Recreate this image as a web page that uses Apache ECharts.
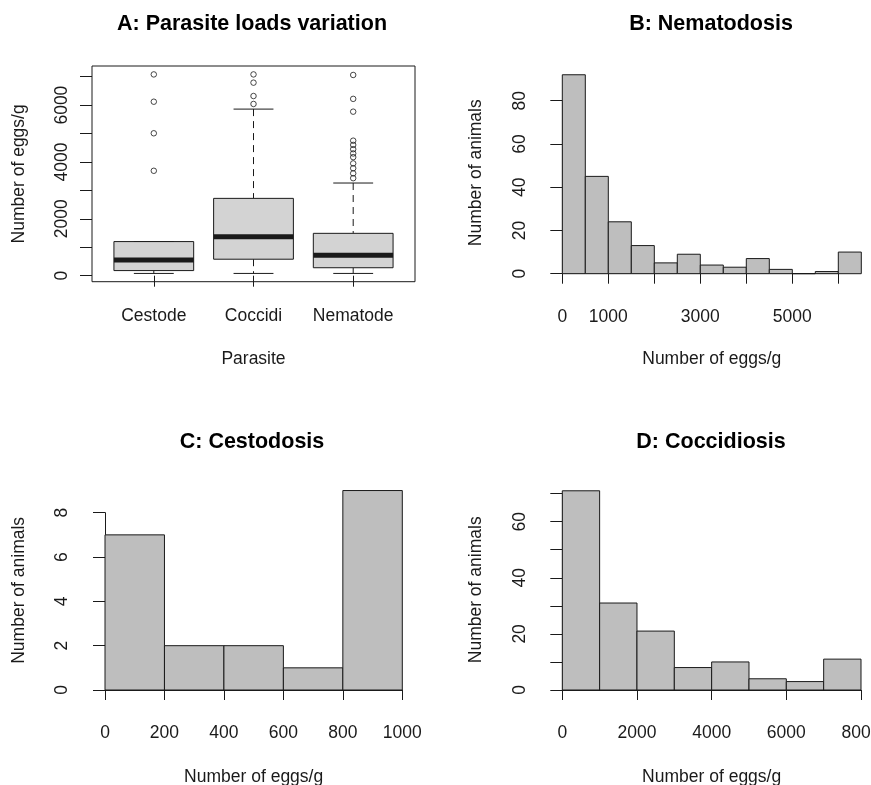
<!DOCTYPE html>
<html>
<head>
<meta charset="utf-8">
<script src="https://cdn.jsdelivr.net/npm/echarts@6/dist/echarts.min.js"></script>
<style>
html, body { margin: 0; background: #fff; }
#chart { width: 871px; height: 785px; }
</style>
</head>
<body>
<div id="chart"></div>
<script>
// A: boxplot summary per parasite (lower whisker, Q1, median, Q3, upper whisker)
const parasites = ['Cestode', 'Coccidi', 'Nematode'];
const boxStats = [
    [80, 180, 550, 1200, 1200],
    [80, 580, 1370, 2720, 5860],
    [80, 280, 720, 1490, 3260]
];
const cestodeOutliers = [3690, 5010, 6120, 7080];
const coccidiOutliers = [6040, 6320, 6790, 7080];
const nematodeOutliers = [3430, 3600, 3780, 3950, 4170, 4300, 4450, 4600, 4750, 5770, 6220, 7060];
const eggTicksA = [0, 1000, 2000, 3000, 4000, 5000, 6000, 7000];
const eggLabelsA = [0, 2000, 4000, 6000];

// B: nematodes
const nemaBreaks = [0, 500, 1000, 1500, 2000, 2500, 3000, 3500, 4000, 4500, 5000, 5500, 6000, 6500];
const nemaCounts = [92, 45, 24, 13, 5, 9, 4, 3, 7, 2, 0, 1, 10];
const nemaTickLabels = [0, 1000, 3000, 5000];

// C: cestodes
const cestBreaks = [0, 200, 400, 600, 800, 1000];
const cestCounts = [7, 2, 2, 1, 9];

// D: coccidia
const coccBreaks = [0, 1000, 2000, 3000, 4000, 5000, 6000, 7000, 8000];
const coccCounts = [71, 31, 21, 8, 10, 4, 3, 11];
const coccYLabels = [0, 20, 40, 60];

const ink = '#1a1a1a';
const font = 'Liberation Sans, Arial, sans-serif';
const fs = 17.5;
const plain = v => String(v);

function histData(breaks, counts) {
    return counts.map((c, i) => [breaks[i], breaks[i + 1], c]);
}

function renderHist(params, api) {
    const p0 = api.coord([api.value(0), api.value(2)]);
    const p1 = api.coord([api.value(1), 0]);
    return {
        type: 'rect',
        shape: { x: p0[0], y: p0[1], width: p1[0] - p0[0], height: p1[1] - p0[1] },
        style: { fill: '#bebebe', stroke: ink, lineWidth: 1 }
    };
}

function renderBox(params, api) {
    const x = api.value(0);
    const lo = api.value(1), q1 = api.value(2), med = api.value(3), q3 = api.value(4), hi = api.value(5);
    const pt = (dx, v) => api.coord([x + dx, v]);
    const seg = (a, b, extra) => ({
        type: 'line',
        shape: { x1: a[0], y1: a[1], x2: b[0], y2: b[1] },
        style: Object.assign({ stroke: ink, lineWidth: 1 }, extra)
    });
    const tl = pt(-0.4, q3), br = pt(0.4, q1);
    return {
        type: 'group',
        children: [
            seg(pt(0, hi), pt(0, q3), { lineDash: [7, 5] }),
            seg(pt(0, q1), pt(0, lo), { lineDash: [7, 5] }),
            seg(pt(-0.2, hi), pt(0.2, hi)),
            seg(pt(-0.2, lo), pt(0.2, lo)),
            {
                type: 'rect',
                shape: { x: tl[0], y: tl[1], width: br[0] - tl[0], height: br[1] - tl[1] },
                style: { fill: '#d3d3d3', stroke: ink, lineWidth: 1 }
            },
            seg(pt(-0.4, med), pt(0.4, med), { lineWidth: 5 })
        ]
    };
}

const labelStyle = { color: ink, fontSize: fs, fontFamily: font };
const titleStyle = { color: '#000', fontSize: 21.5, fontWeight: 'bold', fontFamily: font };

function xAx(grid, min, max, interval, extra) {
    return Object.assign({
        gridIndex: grid, type: 'value', min: min, max: max, interval: interval,
        offset: 8.5,
        axisLine: { show: true, lineStyle: { color: ink, width: 1 } },
        axisTick: { length: 10, lineStyle: { color: ink } },
        axisLabel: Object.assign({ margin: 26, formatter: plain, hideOverlap: false }, labelStyle),
        splitLine: { show: false },
        name: 'Number of eggs/g', nameLocation: 'middle', nameGap: 68,
        nameTextStyle: Object.assign({}, labelStyle)
    }, extra);
}

function yAx(grid, min, max, interval, extra) {
    return Object.assign({
        gridIndex: grid, type: 'value', min: min, max: max, interval: interval,
        offset: 12.3,
        axisLine: { show: true, lineStyle: { color: ink, width: 1 } },
        axisTick: { length: 12, lineStyle: { color: ink } },
        axisLabel: Object.assign({ margin: 21, rotate: 90, formatter: plain }, labelStyle),
        splitLine: { show: false },
        name: 'Number of animals', nameLocation: 'middle', nameGap: 65,
        nameTextStyle: Object.assign({}, labelStyle)
    }, extra);
}

const chart = echarts.init(document.getElementById('chart'), null, { renderer: 'canvas' });

const outlierData = []
    .concat(cestodeOutliers.map(v => [1, v]))
    .concat(coccidiOutliers.map(v => [2, v]))
    .concat(nematodeOutliers.map(v => [3, v]));

const option = {
    animation: false,
    backgroundColor: '#fff',
    textStyle: { fontFamily: font },
    title: [
        { text: 'A: Parasite loads variation', left: 252, top: 13, textAlign: 'center', padding: 0, textStyle: titleStyle },
        { text: 'B: Nematodosis', left: 711, top: 13, textAlign: 'center', padding: 0, textStyle: titleStyle },
        { text: 'C: Cestodosis', left: 252, top: 431, textAlign: 'center', padding: 0, textStyle: titleStyle },
        { text: 'D: Coccidiosis', left: 711, top: 431, textAlign: 'center', padding: 0, textStyle: titleStyle }
    ],
    grid: [
        { left: 92, top: 66, width: 323, height: 215.7, show: true, borderColor: ink, borderWidth: 1, backgroundColor: 'transparent', outerBoundsMode: 'none' },
        { left: 562.3, top: 100.7, width: 276, height: 173, outerBoundsMode: 'none' },
        { left: 105, top: 512.7, width: 297.3, height: 177.3, outerBoundsMode: 'none' },
        { left: 562.3, top: 493.6, width: 298.7, height: 196.4, outerBoundsMode: 'none' }
    ],
    xAxis: [
        {
            gridIndex: 0, type: 'value', min: 0.38, max: 3.62,
            axisLine: { show: false },
            axisTick: { length: 11, customValues: [1, 2, 3], lineStyle: { color: ink } },
            axisLabel: Object.assign({
                margin: 25, customValues: [1, 2, 3],
                formatter: v => parasites[Math.round(v) - 1]
            }, labelStyle),
            splitLine: { show: false },
            name: 'Parasite', nameLocation: 'middle', nameGap: 68,
            nameTextStyle: Object.assign({}, labelStyle)
        },
        xAx(1, 0, 6000, 1000, {
            axisLabel: Object.assign({ margin: 26, customValues: nemaTickLabels, formatter: plain }, labelStyle),
            nameTextStyle: Object.assign({ padding: [0, 0, 0, 23] }, labelStyle)
        }),
        xAx(2, 0, 1000, 200, { nameGap: 69.5 }),
        xAx(3, 0, 8000, 2000, { nameGap: 69.5 })
    ],
    yAxis: [
        {
            gridIndex: 0, type: 'value', min: -211, max: 7376,
            axisLine: { show: false },
            axisTick: { length: 12, customValues: eggTicksA, lineStyle: { color: ink } },
            axisLabel: Object.assign({ margin: 21, rotate: 90, customValues: eggLabelsA, formatter: plain }, labelStyle),
            splitLine: { show: false },
            name: 'Number of eggs/g', nameLocation: 'middle', nameGap: 64,
            nameTextStyle: Object.assign({}, labelStyle)
        },
        yAx(1, 0, 80, 20, {
            nameTextStyle: Object.assign({ padding: [0, 0, 0, 29] }, labelStyle)
        }),
        yAx(2, 0, 8, 2, {
            offset: 13.3, nameGap: 64,
            nameTextStyle: Object.assign({ padding: [0, 0, 0, 22] }, labelStyle)
        }),
        yAx(3, 0, 70, 10, {
            axisLabel: Object.assign({ margin: 21, rotate: 90, customValues: coccYLabels, formatter: plain }, labelStyle),
            nameTextStyle: Object.assign({ padding: [0, 0, 0, 4] }, labelStyle)
        })
    ],
    series: [
        {
            name: 'Parasite loads', type: 'custom', xAxisIndex: 0, yAxisIndex: 0,
            renderItem: renderBox, encode: { x: 0, y: [1, 2, 3, 4, 5] },
            data: boxStats.map((s, i) => [i + 1].concat(s))
        },
        {
            name: 'Outliers', type: 'scatter', xAxisIndex: 0, yAxisIndex: 0,
            symbol: 'circle', symbolSize: 5.5, clip: false,
            itemStyle: { color: 'rgba(0,0,0,0)', borderColor: ink, borderWidth: 1 },
            data: outlierData
        },
        {
            name: 'Nematodosis', type: 'custom', xAxisIndex: 1, yAxisIndex: 1,
            renderItem: renderHist, encode: { x: [0, 1], y: 2 },
            data: histData(nemaBreaks, nemaCounts)
        },
        {
            name: 'Cestodosis', type: 'custom', xAxisIndex: 2, yAxisIndex: 2,
            renderItem: renderHist, encode: { x: [0, 1], y: 2 },
            data: histData(cestBreaks, cestCounts)
        },
        {
            name: 'Coccidiosis', type: 'custom', xAxisIndex: 3, yAxisIndex: 3,
            renderItem: renderHist, encode: { x: [0, 1], y: 2 },
            data: histData(coccBreaks, coccCounts)
        }
    ]
};
chart.setOption(option);
</script>
</body>
</html>
